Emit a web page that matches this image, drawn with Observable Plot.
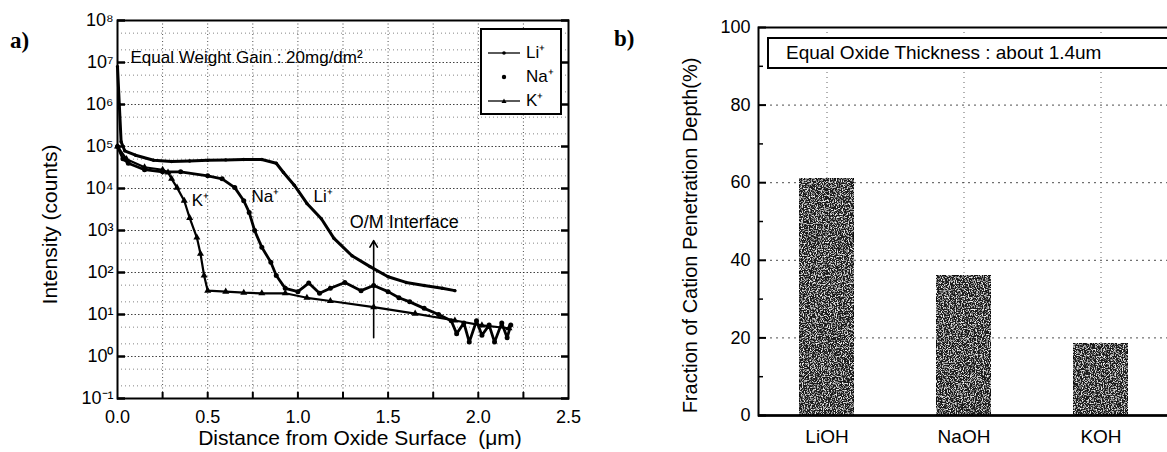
<!DOCTYPE html>
<html><head><meta charset="utf-8">
<script src="https://cdn.jsdelivr.net/npm/d3@7"></script>
<script src="https://cdn.jsdelivr.net/npm/@observablehq/plot@0.6"></script>
<style>
body{margin:0;background:#fff;}
#wrap{position:relative;width:1167px;height:452px;overflow:hidden;background:#fff;font-family:"Liberation Sans",Arial,sans-serif;color:#000}
#wrap svg{position:absolute;top:0;overflow:visible}
.plabel{position:absolute;font:bold 23px "Liberation Serif","Times New Roman",serif}
.box{position:absolute;border:2px solid #000;background:#fff;box-sizing:border-box}
</style></head><body>
<div id="wrap"></div>
<script>
// ---------- panel a data ----------
const liDist = [0, 0.01, 0.02, 0.04, 0.1, 0.2, 0.3, 0.4, 0.5, 0.6, 0.7, 0.8, 0.88, 0.92, 0.98, 1.05, 1.13, 1.2, 1.3, 1.4, 1.5, 1.6, 1.7, 1.8, 1.87];
const liInt  = [7.9e6, 1.0e6, 1.3e5, 7.9e4, 6.2e4, 4.7e4, 4.4e4, 4.5e4, 4.7e4, 4.8e4, 4.9e4, 4.9e4, 4.0e4, 2.4e4, 1.2e4, 4.4e3, 1.9e3, 650, 250, 138, 79, 58, 49, 42, 37];
const naDist = [0, 0.03, 0.06, 0.15, 0.25, 0.35, 0.5, 0.58, 0.65, 0.7, 0.73, 0.76, 0.8, 0.85, 0.88, 0.93, 1.0, 1.06, 1.12, 1.18, 1.26, 1.35, 1.42, 1.5, 1.56, 1.62, 1.7, 1.78, 1.85, 1.88, 1.92, 1.95, 1.99, 2.02, 2.06, 2.09, 2.13, 2.16, 2.18];
const naInt  = [1.0e5, 5.1e4, 4.0e4, 2.8e4, 2.5e4, 2.5e4, 2.0e4, 1.7e4, 1.05e4, 5.1e3, 2.7e3, 1.0e3, 400, 175, 85, 42, 35, 56, 32, 42, 58, 37, 49, 35, 25, 20, 14, 10, 7.1, 3.5, 6.3, 2.2, 7.1, 3.2, 5.6, 2.2, 6.3, 2.8, 5.6];
const kDist  = [0, 0.05, 0.15, 0.25, 0.28, 0.3, 0.33, 0.37, 0.4, 0.44, 0.46, 0.48, 0.5, 0.6, 0.7, 0.8, 0.93, 1.05, 1.18, 1.42, 1.65, 1.87, 2.02, 2.17];
const kInt   = [1.0e5, 5.0e4, 3.2e4, 2.8e4, 2.4e4, 1.7e4, 1.05e4, 5.1e3, 2.0e3, 680, 280, 85, 37, 35, 33, 32, 32, 25, 21, 15, 10.5, 7.2, 5.5, 4.7];
const aXTicks = [0, 0.5, 1, 1.5, 2, 2.5];
const aXMinor = [0.25, 0.5, 0.75, 1, 1.25, 1.5, 1.75, 2, 2.25];
const aYTicks = [1e-1, 1e0, 1e1, 1e2, 1e3, 1e4, 1e5, 1e6, 1e7, 1e8];
const aYTickLabels = ["10\u207B\u00B9", "10\u2070", "10\u00B9", "10\u00B2", "10\u00B3", "10\u2074", "10\u2075", "10\u2076", "10\u2077", "10\u2078"];
const curveLabels = ["K\u207A", "Na\u207A", "Li\u207A"];
const curveLabelX = [0.46, 0.82, 1.14];
const curveLabelY = [5.1e3, 6.5e3, 6.5e3];
const interfaceText = ["O/M Interface"];
const interfaceTextX = [1.59];
const interfaceTextY = [1.55e3];
const interfaceArrowX = [1.42];
const interfaceArrowFrom = [2.8];
const interfaceArrowTo = [575];

// ---------- panel b data ----------
const bCats = ["LiOH", "NaOH", "KOH"];
const bVals = [61, 36, 18.5];
const bYTicks = [0, 20, 40, 60, 80, 100];
const bYMinor = [10, 30, 50, 70, 90];

const wrap = document.getElementById("wrap");
const toRows = (xs, ys) => xs.map((d, i) => ({d, v: ys[i]}));
const li = toRows(liDist, liInt), na = toRows(naDist, naInt), k = toRows(kDist, kInt);

// minor grid values (2 and 5 per decade)
const gridMinor = [];
aYTicks.slice(0, -1).forEach(t => { gridMinor.push(t * 2, t * 5); });

const blank = () => "";
const plotA = Plot.plot({
  width: 580, height: 452,
  marginLeft: 117, marginRight: 12, marginTop: 20, marginBottom: 54,
  style: {fontFamily: "'Liberation Sans', Arial, sans-serif", color: "#000", background: "transparent"},
  x: {domain: [0, 2.5], label: null},
  y: {type: "log", domain: [0.1, 1e8], label: null},
  marks: [
    Plot.gridY(gridMinor, {stroke: "#333", strokeOpacity: 0.6, strokeDasharray: "1,3"}),
    Plot.gridY(aYTicks, {stroke: "#222", strokeOpacity: 0.85, strokeDasharray: "1.5,2"}),
    Plot.gridX(aXMinor, {stroke: "#222", strokeOpacity: 0.8, strokeDasharray: "1,2.5"}),
    Plot.frame({stroke: "#000", strokeWidth: 2}),
    Plot.axisY(aYTicks, {anchor: "left", tickSize: -8, strokeWidth: 2.5, tickFormat: blank, label: null}),
    Plot.axisY(aYTicks, {anchor: "right", tickSize: -8, strokeWidth: 2.5, tickFormat: blank, label: null}),
    Plot.axisX(aXMinor, {anchor: "bottom", tickSize: -6, strokeWidth: 2, tickFormat: blank, label: null}),
    Plot.axisY(aYTicks, {anchor: "left", tickSize: 0, tickPadding: 4, fontSize: 18, label: null,
      tickFormat: t => aYTickLabels[aYTicks.indexOf(t)]}),
    Plot.axisX(aXTicks, {anchor: "bottom", tickSize: 0, tickPadding: 12, fontSize: 18, label: null,
      tickFormat: d3.format(".1f")}),
    Plot.line(k, {x: "d", y: "v", stroke: "#000", strokeWidth: 2.2}),
    Plot.dot(k, {x: "d", y: "v", symbol: "triangle", r: 2.6, fill: "#000"}),
    Plot.line(na, {x: "d", y: "v", stroke: "#000", strokeWidth: 2.8}),
    Plot.dot(na, {x: "d", y: "v", r: 2.5, fill: "#000"}),
    Plot.line(li, {x: "d", y: "v", stroke: "#000", strokeWidth: 3}),
    Plot.dot(li, {x: "d", y: "v", r: 1.7, fill: "#000"}),
    Plot.text(curveLabels, {x: (d, i) => curveLabelX[i], y: (d, i) => curveLabelY[i], text: d => d, fontSize: 17, fill: "#000"}),
    Plot.text(interfaceText, {x: (d, i) => interfaceTextX[i], y: (d, i) => interfaceTextY[i], text: d => d, fontSize: 18, fill: "#000"}),
    Plot.arrow(interfaceArrowX, {x1: d => d, x2: d => d, y1: (d, i) => interfaceArrowFrom[i], y2: (d, i) => interfaceArrowTo[i],
      stroke: "#000", strokeWidth: 1.6, headLength: 7}),
    Plot.text(["Equal Weight Gain : 20mg/dm\u00B2"], {frameAnchor: "top-left", textAnchor: "start", dx: 13, dy: 30, fontSize: 17, fill: "#000"}),
    Plot.text(["Distance from Oxide Surface  (\u03BCm)"], {frameAnchor: "bottom", textAnchor: "middle", dx: 17, dy: 46, fontSize: 21, fill: "#000"}),
    Plot.text(["Intensity (counts)"], {frameAnchor: "left", textAnchor: "middle", rotate: -90, dx: -67, dy: 15, fontSize: 21, fill: "#000"})
  ]
});
plotA.style.left = "0px";
wrap.appendChild(plotA);

const bars = bCats.map((c, i) => ({cat: c, val: bVals[i]}));
const plotB = Plot.plot({
  width: 595, height: 452,
  marginLeft: 178, marginRight: 6, marginTop: 27, marginBottom: 37,
  style: {fontFamily: "'Liberation Sans', Arial, sans-serif", color: "#000", background: "transparent"},
  x: {domain: bCats, paddingInner: 0.6, paddingOuter: 0.3, label: null},
  y: {domain: [0, 100], label: null},
  marks: [
    Plot.gridY([20, 40, 60, 80], {stroke: "#222", strokeOpacity: 0.8, strokeDasharray: "2,4"}),
    Plot.gridX(bCats, {stroke: "#222", strokeOpacity: 0.7, strokeDasharray: "1,4"}),
    Plot.barY(bars, {x: "cat", y: "val", fill: "#1e1e1e", stroke: "#000", strokeWidth: 1}),
    Plot.frame({stroke: "#000", strokeWidth: 2}),
    Plot.ruleY([0], {stroke: "#000", strokeWidth: 2.5}),
    Plot.axisY(bYTicks, {anchor: "left", tickSize: -8, strokeWidth: 2, tickFormat: blank, label: null}),
    Plot.axisY(bYMinor, {anchor: "left", tickSize: -5, strokeWidth: 1.5, tickFormat: blank, label: null}),
    Plot.axisY(bYTicks, {anchor: "left", tickSize: 0, tickPadding: 8, fontSize: 18, label: null}),
    Plot.axisX(bCats, {anchor: "bottom", tickSize: 0, tickPadding: 14, fontSize: 19, label: null}),
    Plot.text(["Fraction of Cation Penetration Depth(%)"], {frameAnchor: "left", textAnchor: "middle", rotate: -90, dx: -68, dy: 14, fontSize: 20, fill: "#000"})
  ]
});
plotB.style.left = "580px";
wrap.appendChild(plotB);

// speckled texture for bars
const defs = d3.select(plotB).insert("defs", ":first-child");
const f = defs.append("filter").attr("id", "speckle").attr("x", 0).attr("y", 0).attr("width", 1).attr("height", 1);
f.append("feTurbulence").attr("type", "fractalNoise").attr("baseFrequency", 0.85).attr("numOctaves", 2).attr("seed", 4).attr("result", "noise");
f.append("feColorMatrix").attr("in", "noise").attr("type", "matrix")
  .attr("values", "0 0 0 0 0.9  0 0 0 0 0.9  0 0 0 0 0.9  4 0 0 0 -1.95").attr("result", "spots");
f.append("feComposite").attr("in", "spots").attr("in2", "SourceGraphic").attr("operator", "in").attr("result", "clipped");
const m = f.append("feMerge");
m.append("feMergeNode").attr("in", "SourceGraphic");
m.append("feMergeNode").attr("in", "clipped");
d3.select(plotB).selectAll('g[aria-label="bar"] rect').attr("filter", "url(#speckle)");

// panel labels and boxes
const lab = (t, x, y) => { const d = document.createElement("div"); d.className = "plabel"; d.textContent = t; d.style.left = x + "px"; d.style.top = y + "px"; wrap.appendChild(d); };
lab("a)", 10, 28);
lab("b)", 614, 26);

const legA = document.createElement("div");
legA.className = "box";
Object.assign(legA.style, {left: "480px", top: "28px", width: "82px", height: "87px"});
const legRows = [
  {t: "Li\u207A", y: 13, line: true, sym: "dot"},
  {t: "Na\u207A", y: 37, line: false, sym: "dot"},
  {t: "K\u207A", y: 61, line: true, sym: "tri"}
];
legRows.forEach(r => {
  const row = document.createElement("div");
  Object.assign(row.style, {position: "absolute", left: "4px", top: r.y + "px", height: "20px", width: "76px"});
  const sym = r.sym === "dot" ? `<circle cx="18" cy="10" r="${r.line ? 1.8 : 2.2}" fill="#000"/>` : `<path d="M18,7.5 L20.5,12 L15.5,12 Z" fill="#000"/>`;
  row.innerHTML = `<svg width="36" height="20" style="position:absolute;left:0;top:0">${r.line ? '<line x1="2" x2="34" y1="10" y2="10" stroke="#000" stroke-width="1.3"/>' : ''}${sym}</svg>` +
    `<span style="position:absolute;left:40px;top:0;font-size:17px;line-height:20px">${r.t}</span>`;
  legA.appendChild(row);
});
wrap.appendChild(legA);

const boxB = document.createElement("div");
boxB.className = "box";
Object.assign(boxB.style, {left: "767px", top: "37px", width: "420px", height: "32px", fontSize: "19px", lineHeight: "28px", paddingLeft: "17px"});
boxB.textContent = "Equal Oxide Thickness : about 1.4um";
wrap.appendChild(boxB);
</script>
</body></html>
